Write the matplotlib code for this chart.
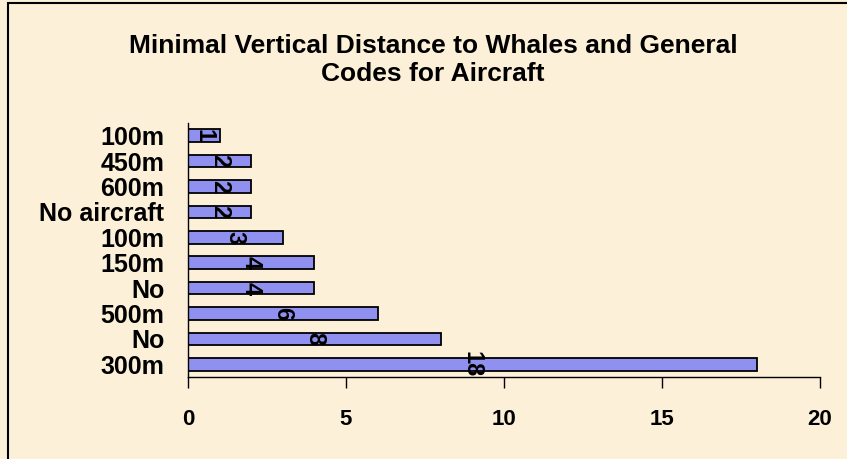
import matplotlib
matplotlib.use("Agg")
import matplotlib.pyplot as plt
from matplotlib.patches import Rectangle

# categories listed bottom to top, as drawn
categories = ["300m", "No", "500m", "No", "150m", "100m",
              "No aircraft", "600m", "450m", "100m"]
counts = [18, 8, 6, 4, 4, 3, 2, 2, 2, 1]
x_ticks = [0, 5, 10, 15, 20]

title = "Minimal Vertical Distance to Whales and General\nCodes for Aircraft"

plt.rcParams['font.family'] = ['Liberation Sans', 'DejaVu Sans']

bg = '#fcf0d8'
fig = plt.figure(figsize=(8.47, 4.59), dpi=100, facecolor=bg)

# outer chart frame (left and top edges visible)
W, H = 847, 459
fig.patches.append(Rectangle((8 / W, -0.1), 1.2, (H - 3) / H + 0.1,
                             transform=fig.transFigure, fill=False,
                             edgecolor='black', linewidth=1.5))

ax = fig.add_axes([188 / W, (H - 377) / H, 632 / W, 254 / H])
ax.set_facecolor('none')

pos = list(range(len(categories)))
ax.barh(pos, counts, height=0.5, color='#9090f0', edgecolor='black',
        linewidth=1.3, zorder=2)

for p, v in zip(pos, counts):
    ax.text(v / 2, p, str(v), rotation=270, ha='center', va='center',
            fontsize=17, fontweight='bold', zorder=3)

ax.set_xlim(0, 20)
ax.set_ylim(-0.5, len(categories) - 0.5)
ax.set_xticks(x_ticks)
ax.set_xticklabels([str(t) for t in x_ticks], fontsize=16, fontweight='bold')
ax.set_yticks(pos)
ax.set_yticklabels(categories, fontsize=18, fontweight='bold')

ax.tick_params(axis='x', direction='out', length=8, width=1, pad=15)
ax.tick_params(axis='y', length=0, pad=17)
for s in ['top', 'right']:
    ax.spines[s].set_visible(False)
for s in ['left', 'bottom']:
    ax.spines[s].set_linewidth(1)

fig.text(433 / W, 1 - 60 / H, title, ha='center', va='center',
         fontsize=19, fontweight='bold', linespacing=1.25)

fig.savefig('out.png', dpi=100, facecolor=bg)
